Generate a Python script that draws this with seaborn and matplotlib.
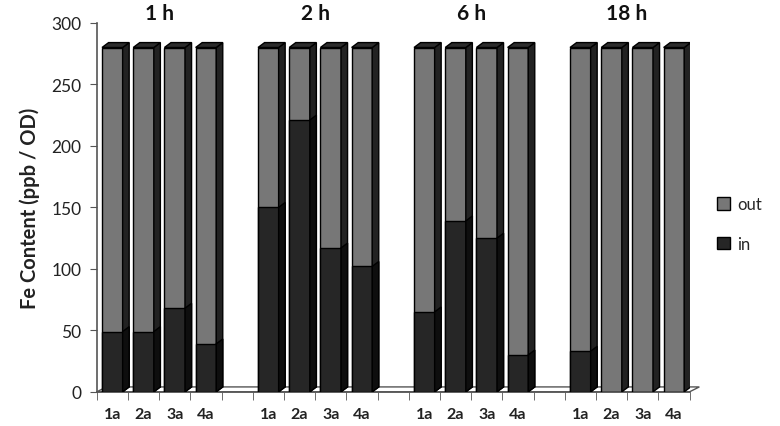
import numpy as np
import pandas as pd
import matplotlib.pyplot as plt
import seaborn as sns
from matplotlib.patches import Polygon, Patch

groups = ["1 h", "2 h", "6 h", "18 h"]
samples = ["1a", "2a", "3a", "4a"]
fe_in = [
    [49, 49, 68, 39],
    [150, 221, 117, 102],
    [65, 139, 125, 30],
    [33, 0, 0, 0],
]
fe_total = [
    [280, 280, 280, 280],
    [280, 280, 280, 280],
    [280, 280, 280, 280],
    [280, 280, 280, 280],
]

col_out = "#777777"
col_in = "#262626"

# tabela longa
linhas = []
for g, vin, vtot in zip(groups, fe_in, fe_total):
    for s, a, t in zip(samples, vin, vtot):
        linhas.append({"slot": f"{g}|{s}", "grupo": g, "amostra": s,
                       "in": a, "out": t - a, "total": t})
df = pd.DataFrame(linhas)

# ordem com espacos vazios entre os grupos
ordem = []
for i, g in enumerate(groups):
    ordem += [f"{g}|{s}" for s in samples]
    if i < len(groups) - 1:
        ordem.append(" " * (i + 1))

sns.set_style("white")
plt.rcParams["font.family"] = ["Lato", "DejaVu Sans"]

fig = plt.figure(figsize=(7.8, 4.27), dpi=100)
ax = fig.add_axes([0.124, 0.080, 0.760, 0.864])

largura = 0.66
sns.barplot(data=df, x="slot", y="total", order=ordem, color=col_out,
            width=largura, edgecolor="black", linewidth=1.0,
            saturation=1, ax=ax, zorder=3)
n_out = len(ax.patches)
sns.barplot(data=df, x="slot", y="in", order=ordem, color=col_in,
            width=largura, edgecolor="black", linewidth=1.0,
            saturation=1, ax=ax, zorder=4)

ax.set_ylim(0, 300)
ax.set_xlim(-0.5, len(ordem) - 0.5)

# efeito 3D: faces laterais e tampa
dx, dy = 0.21, 4.0
barras = list(ax.patches)
for k, p in enumerate(barras):
    x0, y0 = p.get_x(), p.get_y()
    w, h = p.get_width(), p.get_height()
    if h <= 0 or np.isnan(h):
        continue
    x1, y1 = x0 + w, y0 + h
    eh_out = k < n_out
    lado = Polygon([(x1, y0), (x1 + dx, y0 + dy), (x1 + dx, y1 + dy), (x1, y1)],
                   closed=True, facecolor="#222222" if eh_out else "#0e0e0e",
                   edgecolor="black", linewidth=1.0,
                   zorder=3.5 if eh_out else 4.5)
    ax.add_patch(lado)
    if eh_out:
        tampa = Polygon([(x0, y1), (x0 + dx, y1 + dy), (x1 + dx, y1 + dy), (x1, y1)],
                        closed=True, facecolor="#2c2c2c", edgecolor="black",
                        linewidth=1.0, zorder=3.5)
        ax.add_patch(tampa)

# piso
xa, xb = -0.5, len(ordem) - 0.5
piso = Polygon([(xa, 0), (xb, 0), (xb + dx * 1.5, dy), (xa + dx * 1.5, dy)],
               closed=True, facecolor="white", edgecolor="#555555",
               linewidth=1.0, zorder=1, clip_on=False)
ax.add_patch(piso)

# eixos
for lado in ["top", "right"]:
    ax.spines[lado].set_visible(False)
for lado in ["left", "bottom"]:
    ax.spines[lado].set_color("#555555")
    ax.spines[lado].set_linewidth(1.2)

ax.set_yticks(range(0, 301, 50))
ax.tick_params(axis="y", direction="out", length=5, color="#555555",
               labelsize=12.5, labelcolor="#222222", left=True, pad=6)

centros = [i for i, o in enumerate(ordem) if "|" in o]
rotulos = [o.split("|")[1] for o in ordem if "|" in o]
ax.set_xticks(centros)
ax.set_xticklabels(rotulos, fontsize=11.5, fontweight="bold", color="#222222")
ax.set_xticks(np.arange(-0.5, len(ordem), 1.0), minor=True)
ax.tick_params(axis="x", which="major", length=0, pad=11)
ax.tick_params(axis="x", which="minor", direction="out", length=6,
               color="#555555", bottom=True)

ax.set_xlabel("")
ax.set_ylabel("Fe Content (ppb / OD)", fontsize=14.5, fontweight="bold",
              color="#222222", labelpad=8)

# titulos dos grupos
for i, g in enumerate(groups):
    xc = i * 5 + 1.5
    ax.text(xc, 1.027, g, transform=ax.get_xaxis_transform(), ha="center",
            va="center", fontsize=15, fontweight="bold", color="#111111")

handles = [Patch(facecolor=col_out, edgecolor="black", label="out"),
           Patch(facecolor=col_in, edgecolor="black", label="in")]
fig.legend(handles=handles, loc="center left", bbox_to_anchor=(0.9, 0.473),
           frameon=False, fontsize=12, labelspacing=1.4, handlelength=0.8,
           handleheight=0.8, handletextpad=0.4)

fig.savefig("out.png", dpi=100)
